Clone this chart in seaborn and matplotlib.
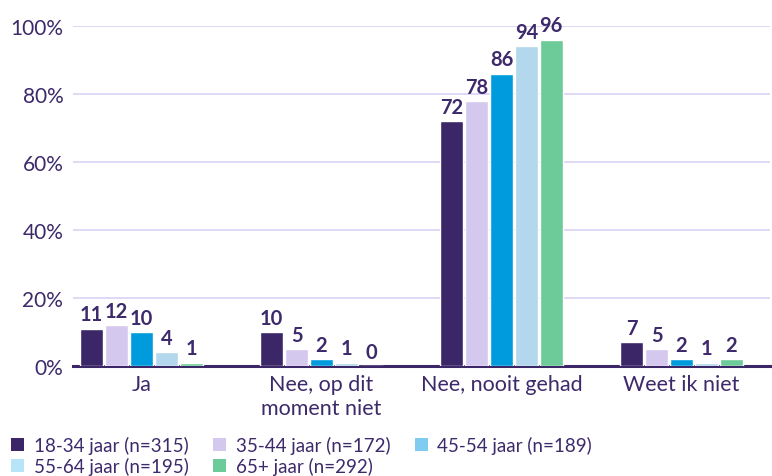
import matplotlib
matplotlib.use("Agg")
import matplotlib.pyplot as plt
import seaborn as sns
import pandas as pd
from matplotlib.patches import Patch

categories = ["Ja", "Nee, op dit\nmoment niet", "Nee, nooit gehad", "Weet ik niet"]
groups = ["18-34 jaar (n=315)", "35-44 jaar (n=172)", "45-54 jaar (n=189)",
          "55-64 jaar (n=195)", "65+ jaar (n=292)"]
values = {
    "18-34 jaar (n=315)": [11, 10, 72, 7],
    "35-44 jaar (n=172)": [12, 5, 78, 5],
    "45-54 jaar (n=189)": [10, 2, 86, 2],
    "55-64 jaar (n=195)": [4, 1, 94, 1],
    "65+ jaar (n=292)": [1, 0, 96, 2],
}
bar_colors = ["#3b2667", "#d5c8ef", "#009bdc", "#b3d7ec", "#6ccb98"]
legend_colors = ["#3b2667", "#d5c8ef", "#80ccf0", "#b8e4f7", "#6ccb98"]
yticks = [0, 20, 40, 60, 80, 100]
ytick_labels = ["0%", "20%", "40%", "60%", "80%", "100%"]

rows = []
for g in groups:
    for c, v in zip(categories, values[g]):
        rows.append({"cat": c, "grp": g, "val": v})
df = pd.DataFrame(rows)

sns.set_style("white")
plt.rcParams["font.family"] = ["Lato", "DejaVu Sans"]
txt = "#3d2a6b"

fig = plt.figure(figsize=(7.72, 4.77), dpi=100)
ax = fig.add_axes([0.0946, 0.2306, 0.9024, 0.7128])

sns.barplot(data=df, x="cat", y="val", hue="grp", order=categories, hue_order=groups,
            palette=bar_colors, width=0.69, gap=0.08, ax=ax, legend=False,
            saturation=1, errorbar=None, zorder=3)

for cont in ax.containers:
    ax.bar_label(cont, fmt="%d", padding=3, fontsize=14.5, fontweight="bold", color=txt)

ax.set_ylim(0, 100)
ax.set_xlim(-0.38, 3.49)
ax.set_yticks(yticks)
ax.set_yticklabels(ytick_labels)
ax.yaxis.grid(True, color="#dad2f4", linewidth=1.2, zorder=0)
ax.set_axisbelow(True)
for s in ["left", "right", "top"]:
    ax.spines[s].set_visible(False)
ax.spines["bottom"].set_color("#3b2667")
ax.spines["bottom"].set_linewidth(2.2)
ax.tick_params(axis="x", length=0, labelsize=15.5, colors=txt, pad=6)
ax.tick_params(axis="y", length=0, labelsize=15, colors=txt, pad=7)
ax.set_xlabel("")
ax.set_ylabel("")

order = [0, 3, 1, 4, 2]
handles = [Patch(facecolor=legend_colors[i], edgecolor="none") for i in order]
labels = [groups[i] for i in order]
fig.legend(handles, labels, loc="upper left", bbox_to_anchor=(0.005, 0.1), ncol=3,
           frameon=False, fontsize=13.5, labelcolor=txt, handlelength=0.7, handleheight=0.7,
           handletextpad=0.5, columnspacing=1.3, labelspacing=0.15, borderaxespad=0)

fig.savefig("out.png", dpi=100)
